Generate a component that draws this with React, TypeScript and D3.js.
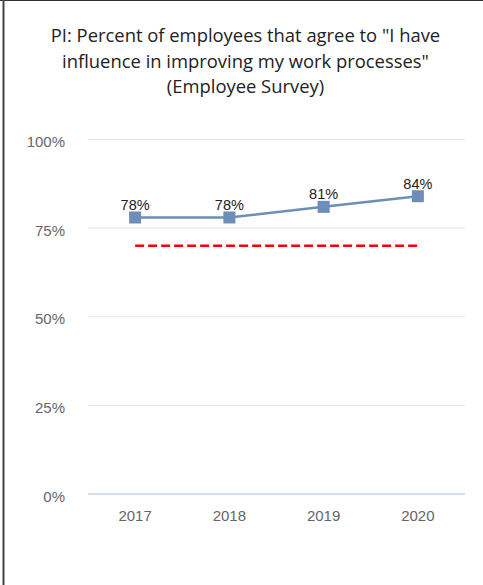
import React from "react";
import * as d3 from "d3";

const years = ["2017", "2018", "2019", "2020"];
const values = [0.78, 0.78, 0.81, 0.84];
const targetValue = 0.7;
const yTicks = [0, 0.25, 0.5, 0.75, 1];
const titleLines = [
  'PI: Percent of employees that agree to "I have',
  'influence in improving my work processes"',
  "(Employee Survey)",
];

export default function App() {
  const W = 483;
  const H = 585;
  const left = 88;
  const right = 465;
  const top = 139.5;
  const bottom = 494;

  const x = d3.scaleBand<string>().domain(years).range([left, right]).padding(0);
  const y = d3.scaleLinear().domain([0, 1]).range([bottom, top]);
  const cx = (d: string) => (x(d) as number) + x.bandwidth() / 2;

  const line = d3
    .line<number>()
    .x((_, i) => cx(years[i]))
    .y((d) => y(d));

  const fmt = d3.format(".0%");

  return (
    <svg
      width={W}
      height={H}
      style={{ position: "fixed", left: 0, top: 0, background: "#fff" }}
    >
      <rect x={0} y={0} width={W} height={H} fill="#fff" />
      <line x1={0} x2={W} y1={0.5} y2={0.5} stroke="#333" strokeWidth={1} />
      <line x1={3.5} x2={3.5} y1={0} y2={H} stroke="#444" strokeWidth={2} />

      {titleLines.map((t, i) => (
        <text
          key={i}
          x={245.5}
          y={42 + i * 25.5}
          textAnchor="middle"
          fontFamily="'Open Sans', sans-serif"
          fontSize={18.4}
          fill="#222"
        >
          {t}
        </text>
      ))}

      {yTicks.map((t) => (
        <g key={t}>
          <line
            x1={left}
            x2={right}
            y1={y(t)}
            y2={y(t)}
            stroke={t === 0 ? "#c5d3ea" : "#e3e3e3"}
            strokeWidth={t === 0 ? 1.5 : 1}
          />
          <text
            x={65}
            y={y(t) + 7.5}
            textAnchor="end"
            fontFamily="'Liberation Sans', Arial, sans-serif"
            fontSize={15}
            fill="#666"
          >
            {fmt(t)}
          </text>
        </g>
      ))}

      {years.map((yr) => (
        <text
          key={yr}
          x={cx(yr)}
          y={bottom + 27}
          textAnchor="middle"
          fontFamily="'Liberation Sans', Arial, sans-serif"
          fontSize={15}
          fill="#666"
        >
          {yr}
        </text>
      ))}

      <line
        x1={cx(years[0])}
        x2={cx(years[years.length - 1])}
        y1={y(targetValue)}
        y2={y(targetValue)}
        stroke="#ff0000"
        strokeWidth={2.5}
        strokeDasharray="9,4"
      />

      <path d={line(values) || ""} fill="none" stroke="#6e8db8" strokeWidth={2.5} />

      {values.map((v, i) => (
        <g key={i}>
          <rect
            x={cx(years[i]) - 6}
            y={y(v) - 6}
            width={12}
            height={12}
            fill="#6e8db8"
          />
          <text
            x={cx(years[i])}
            y={y(v) - 7.5}
            textAnchor="middle"
            fontFamily="'Liberation Sans', Arial, sans-serif"
            fontSize={14.5}
            fill="#222"
          >
            {fmt(v)}
          </text>
        </g>
      ))}
    </svg>
  );
}
